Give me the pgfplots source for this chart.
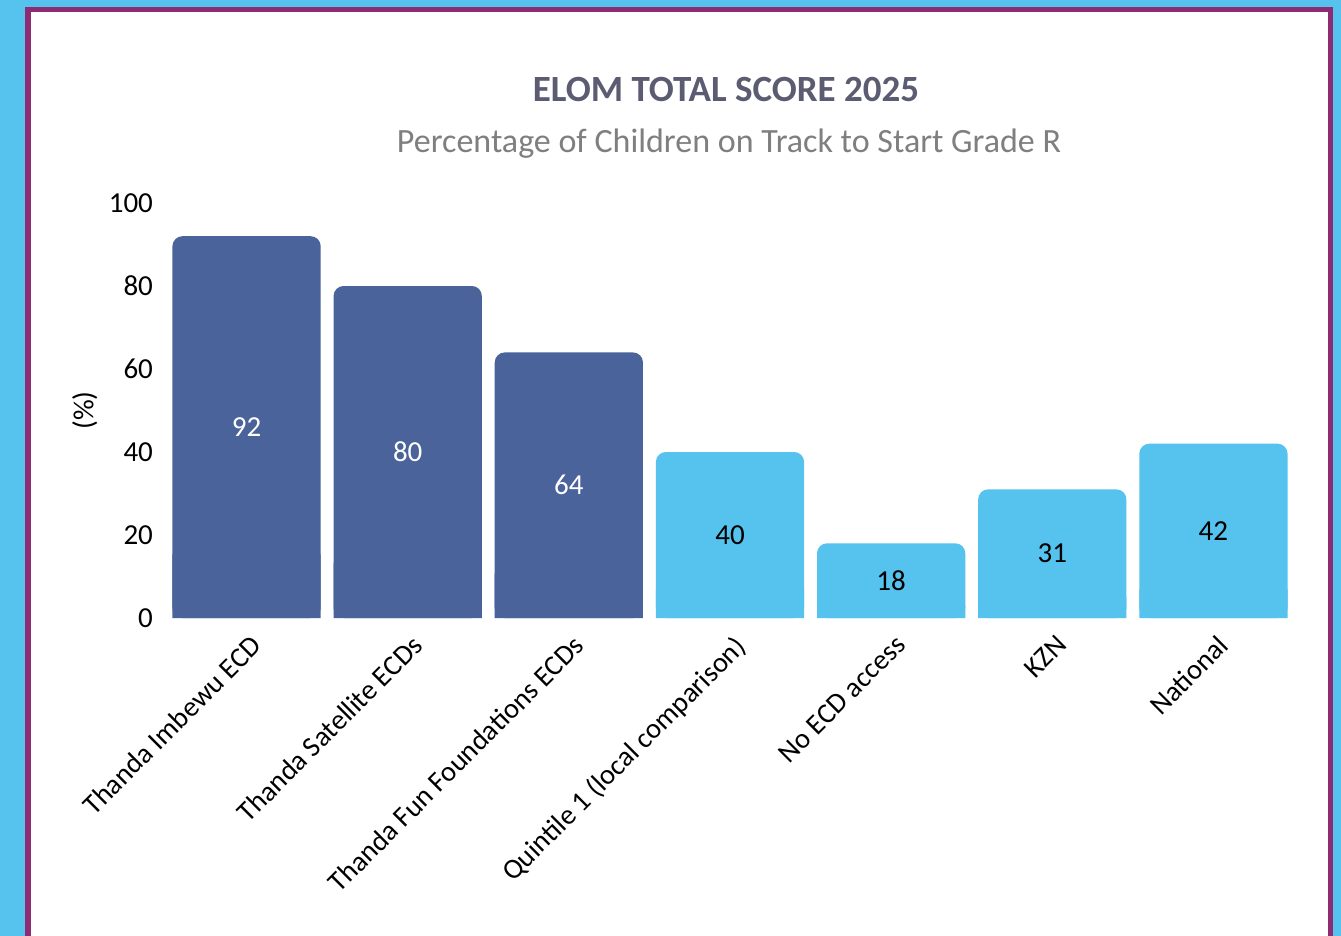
\documentclass[border=0pt]{standalone}
\usepackage{fontspec}
\setmainfont{Carlito}
\usepackage{pgfplots}
\pgfplotsset{compat=1.18}
\usepackage{pgfplotstable}

\definecolor{skyb}{HTML}{56C3EE}
\definecolor{framep}{HTML}{8F2B73}
\definecolor{darkb}{HTML}{4A639B}
\definecolor{lightb}{HTML}{56C3EE}
\definecolor{titlec}{HTML}{5B5B72}
\definecolor{subc}{HTML}{7F7F7F}

% bars: x position, value
\pgfplotstableread{
x v
0 92
1 80
2 64
}\darkdata
\pgfplotstableread{
x v
3 40
4 18
5 31
6 42
}\lightdata

\begin{document}
\begin{tikzpicture}
\begin{scope}[x=0.5pt,y=-0.5pt]
  \fill[skyb] (0,0) rectangle (1341,936);
  \fill[framep] (25,7) rectangle (1333,936);
  \fill[white] (30.5,12.5) rectangle (1327.5,936);
  \path[use as bounding box] (0,0) rectangle (1341,936);
  \node[font=\fontsize{18.5}{22}\selectfont\bfseries, text=titlec] at (726,89) {ELOM TOTAL SCORE 2025};
  \node[font=\fontsize{17}{20}\selectfont, text=subc] at (729,144) {Percentage of Children on Track to Start Grade R};
\end{scope}
\begin{axis}[
    at={(83pt,-309pt)}, anchor=south west,
    scale only axis,
    width=564pt, height=207.5pt,
    xmin=-0.5, xmax=6.5,
    ymin=0, ymax=100,
    ytick={0,20,40,60,80,100},
    xtick={0,1,2,3,4,5,6},
    xticklabels={Thanda Imbewu ECD, Thanda Satellite ECDs, Thanda Fun Foundations ECDs, Quintile 1 (local comparison), No ECD access, KZN, National},
    xticklabel style={rotate=45, anchor=north east, yshift=-3pt, xshift=-1pt, font=\fontsize{14.2}{16}\selectfont},
    yticklabel style={xshift=-3pt, font=\fontsize{14.5}{17}\selectfont},
    /pgf/number format/assume math mode=true,
    ylabel={(\%)},
    every axis y label/.style={at={(axis description cs:-0.072,0.5)}, rotate=90, anchor=center, font=\fontsize{14.5}{17}\selectfont},
    axis line style={draw=none},
    tick style={draw=none},
    nodes near coords style={font=\fontsize{14.5}{17}\selectfont, anchor=center},
]
% rounded bars
\addplot[ybar, bar width=0.92, bar shift=0pt, fill=darkb, draw=none, rounded corners=5pt]
    table[x=x, y=v]{\darkdata};
\addplot[ybar, bar width=0.92, bar shift=0pt, fill=lightb, draw=none, rounded corners=5pt]
    table[x=x, y=v]{\lightdata};
% square off the bottom corners
\addplot[ybar, bar width=0.92, bar shift=0pt, fill=darkb, draw=none]
    table[x=x, y expr=\thisrow{v}/6]{\darkdata};
\addplot[ybar, bar width=0.92, bar shift=0pt, fill=lightb, draw=none]
    table[x=x, y expr=\thisrow{v}/6]{\lightdata};
% value labels at mid height
\addplot[draw=none, mark=none, nodes near coords, point meta=explicit,
    every node near coord/.append style={text=white, anchor=center}]
    table[x=x, y expr=\thisrow{v}/2, meta=v]{\darkdata};
\addplot[draw=none, mark=none, nodes near coords, point meta=explicit,
    every node near coord/.append style={text=black, anchor=center}]
    table[x=x, y expr=\thisrow{v}/2, meta=v]{\lightdata};
\end{axis}
\end{tikzpicture}
\end{document}
